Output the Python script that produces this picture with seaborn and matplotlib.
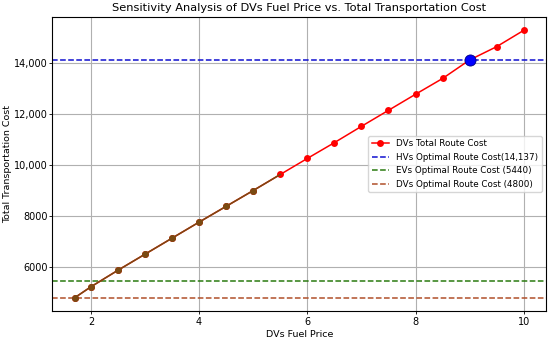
import matplotlib
matplotlib.use("Agg")
import matplotlib.pyplot as plt
import seaborn as sns
import pandas as pd

fuel_price = [1.7, 2.0, 2.5, 3.0, 3.5, 4.0, 4.5, 5.0, 5.5, 6.0, 6.5, 7.0, 7.5, 8.0, 8.5, 9.0, 9.5, 10.0]
total_cost = [4800, 5230, 5880, 6510, 7140, 7770, 8390, 9010, 9640, 10270, 10890, 11530, 12160, 12790, 13410, 14137, 14660, 15300]
hv_cost = 14137
ev_cost = 5440
dv_cost = 4800
break_even_price = 9.0
shaded_until = 5.5

df = pd.DataFrame({"price": fuel_price, "cost": total_cost})
low = df[df["price"] <= shaded_until]
low_pts = df[df["price"] < shaded_until]

plt.rcParams['font.family'] = ['DejaVu Sans']
fig, ax = plt.subplots(figsize=(5.5, 3.4), dpi=100)
fig.subplots_adjust(left=0.095, right=0.993, top=0.95, bottom=0.085)

sns.lineplot(data=df, x="price", y="cost", ax=ax, color="red", marker="o",
             markersize=5, markeredgewidth=0, linewidth=1.1,
             label="DVs Total Route Cost", zorder=3)
ax.axhline(hv_cost, color="#1010d0", linestyle="--", linewidth=1.1,
           label="HVs Optimal Route Cost(14,137)", zorder=2)
ax.axhline(ev_cost, color="#2a7a10", linestyle="--", linewidth=1.1,
           label="EVs Optimal Route Cost (5440)", zorder=2)
ax.axhline(dv_cost, color="#b0502a", linestyle="--", linewidth=1.1,
           label="DVs Optimal Route Cost (4800)", zorder=2)

sns.lineplot(data=low, x="price", y="cost", ax=ax, color="#7a4a12",
             linewidth=1.1, zorder=4, legend=False)
ax.plot(low_pts["price"], low_pts["cost"], linestyle="none", marker="o",
        markersize=5, markeredgewidth=0, color="#7a4a12", zorder=5)

ax.plot([break_even_price], [hv_cost], marker="o", markersize=8,
        color="blue", markeredgecolor="navy", markeredgewidth=0.6, zorder=6)

ax.yaxis.set_major_formatter(matplotlib.ticker.FuncFormatter(
    lambda v, p: f"{int(v):,}" if v >= 10000 else f"{int(v)}"))

ax.grid(True, color="#b0b0b0", linewidth=0.8)
ax.set_axisbelow(True)
ax.set_title("Sensitivity Analysis of DVs Fuel Price vs. Total Transportation Cost",
             fontsize=8.2, pad=4)
ax.set_xlabel("DVs Fuel Price", fontsize=6.8, labelpad=2)
ax.set_ylabel("Total Transportation Cost", fontsize=6.8, labelpad=1)
ax.tick_params(axis="x", labelsize=7.0, length=2.5, width=0.6, pad=2)
ax.tick_params(axis="y", labelsize=7.0, length=2.5, width=0.6, pad=1)
for s in ax.spines.values():
    s.set_linewidth(0.8)
ax.legend(loc="center right", fontsize=6.3, frameon=True, framealpha=0.8)

fig.savefig("out.png", dpi=100)
